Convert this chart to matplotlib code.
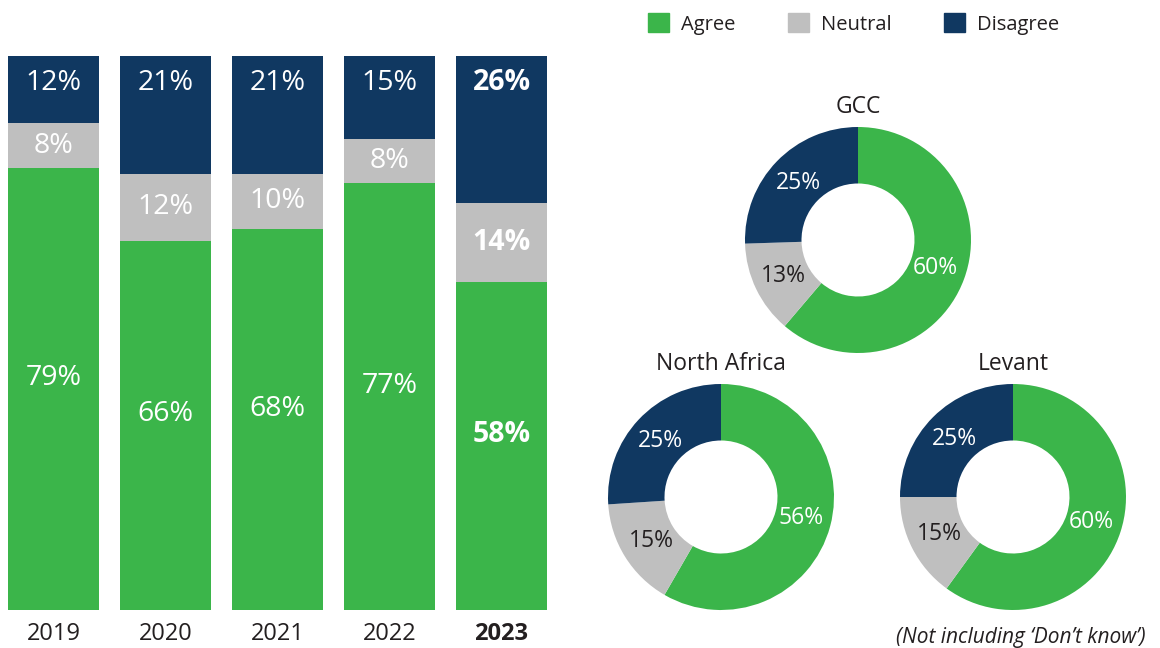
import numpy as np
import matplotlib.pyplot as plt
from matplotlib.patches import Patch

plt.rcParams['font.family'] = ['Open Sans', 'DejaVu Sans']

GREEN = '#3BB54A'
GREY = '#BFBFBF'
NAVY = '#103861'
DARK = '#231F20'

years = ['2019', '2020', '2021', '2022', '2023']
agree = [79, 66, 68, 77, 58]
neutral = [8, 12, 10, 8, 14]
disagree = [12, 21, 21, 15, 26]

regions = ['GCC', 'North Africa', 'Levant']
reg_agree = [60, 56, 60]
reg_neutral = [13, 15, 15]
reg_disagree = [25, 25, 25]

W, H = 1160, 648
fig = plt.figure(figsize=(W / 100, H / 100), dpi=100)


def px_axes(x0, y0, x1, y1):
    # axes from pixel box (top-left origin)
    return fig.add_axes([x0 / W, 1 - y1 / H, (x1 - x0) / W, (y1 - y0) / H])


# stacked bars, each scaled to the full column height
ax = px_axes(8, 56, 547, 610)
x = np.arange(len(years))
tot = np.array(agree) + np.array(neutral) + np.array(disagree)
a = np.array(agree) / tot
n = np.array(neutral) / tot
d = np.array(disagree) / tot
bw = 0.8125
ax.bar(x, a, bw, color=GREEN)
ax.bar(x, n, bw, bottom=a, color=GREY)
ax.bar(x, d, bw, bottom=a + n, color=NAVY)
ax.set_xlim(-bw / 2, len(years) - 1 + bw / 2)
ax.set_ylim(0, 1)

for i in range(len(years)):
    w = 'bold' if years[i] == '2023' else 'normal'
    kw = dict(ha='center', va='center', color='white', fontsize=20.5, fontweight=w)
    ax.text(x[i], a[i] / 2 + 0.02, f'{agree[i]}%', **kw)
    ax.text(x[i], a[i] + n[i] / 2, f'{neutral[i]}%', **kw)
    ax.text(x[i], 1 - 0.048, f'{disagree[i]}%', **kw)

ax.set_xticks(x)
ax.set_xticklabels(years, fontsize=17, color=DARK)
for lbl in ax.get_xticklabels():
    if lbl.get_text() == '2023':
        lbl.set_fontweight('bold')
ax.tick_params(axis='x', length=0, pad=8.5)
ax.set_yticks([])
for s in ax.spines.values():
    s.set_visible(False)

# regional donuts
centres = [(858, 240), (721, 497), (1013, 497)]
R = 113
for k, name in enumerate(regions):
    cx, cy = centres[k]
    pax = px_axes(cx - R, cy - R, cx + R, cy + R)
    vals = [reg_agree[k], reg_neutral[k], reg_disagree[k]]
    wedges, _ = pax.pie(vals, colors=[GREEN, GREY, NAVY], startangle=90,
                        counterclock=False, radius=1,
                        wedgeprops=dict(width=0.5, linewidth=0))
    pax.set_xlim(-1, 1)
    pax.set_ylim(-1, 1)
    pax.set_aspect('equal')
    pax.axis('off')
    tcols = ['white', DARK, 'white']
    for wdg, v, c in zip(wedges, vals, tcols):
        ang = np.deg2rad((wdg.theta1 + wdg.theta2) / 2)
        pax.text(0.73 * np.cos(ang), 0.73 * np.sin(ang), f'{v}%',
                 ha='center', va='center', color=c, fontsize=16.5)
    pax.text(0, 1.07, name, ha='center', va='bottom', color=DARK, fontsize=16.5)

handles = [Patch(color=GREEN, label='Agree'),
           Patch(color=GREY, label='Neutral'),
           Patch(color=NAVY, label='Disagree')]
leg = fig.legend(handles=handles, loc='center left', ncol=3,
                 bbox_to_anchor=(648 / W, 1 - 24 / H), frameon=False,
                 fontsize=14.5, handlelength=1.05, handleheight=1.05,
                 handletextpad=0.6, columnspacing=2.6, borderpad=0,
                 borderaxespad=0)
for t in leg.get_texts():
    t.set_color(DARK)

fig.text(1146 / W, 1 - 637 / H, '(Not including \u2018Don\u2019t know\u2019)',
         ha='right', va='center', style='italic', fontsize=15, color=DARK)

fig.savefig('out.png', dpi=100)
